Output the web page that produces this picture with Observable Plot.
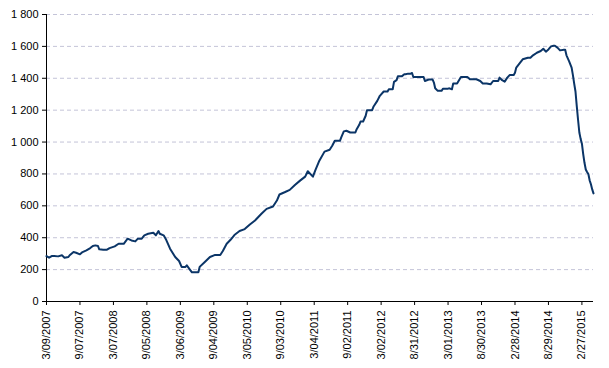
<!DOCTYPE html>
<html><head><meta charset="utf-8">
<script src="https://cdn.jsdelivr.net/npm/d3@7"></script>
<script src="https://cdn.jsdelivr.net/npm/@observablehq/plot@0.6"></script>
<style>body{margin:0;background:#fff;} svg{display:block}</style>
</head><body><div id="chart"></div>
<script>
const dates = [
"2007-03-09","2007-03-23","2007-04-06","2007-04-20","2007-05-11","2007-06-01","2007-06-15","2007-07-06","2007-07-13","2007-08-03",
"2007-08-17","2007-09-07","2007-09-21","2007-10-12","2007-11-02","2007-11-16","2007-11-30","2007-12-14","2007-12-21","2008-01-11",
"2008-02-01","2008-02-15","2008-03-14","2008-04-04","2008-05-02","2008-05-16","2008-05-23","2008-06-13","2008-07-04","2008-07-18",
"2008-08-08","2008-08-22","2008-09-12","2008-10-10","2008-10-24","2008-11-07","2008-11-14","2008-12-05","2008-12-19","2009-01-09",
"2009-02-06","2009-02-27","2009-03-13","2009-04-03","2009-04-10","2009-05-08","2009-06-12","2009-06-19","2009-07-17","2009-08-14",
"2009-09-11","2009-10-09","2009-10-23","2009-11-13","2009-12-04","2009-12-25","2010-01-22","2010-02-19","2010-03-19","2010-04-16",
"2010-05-21","2010-06-18","2010-07-23","2010-08-13","2010-08-27","2010-09-24","2010-10-22","2010-11-19","2010-12-17","2011-01-14",
"2011-01-28","2011-02-25","2011-03-11","2011-04-01","2011-04-29","2011-05-27","2011-06-10","2011-06-24","2011-07-22","2011-07-29",
"2011-08-12","2011-08-26","2011-09-16","2011-10-14","2011-10-21","2011-11-04","2011-11-11","2011-11-25","2011-12-09","2011-12-16",
"2012-01-13","2012-01-20","2012-02-10","2012-02-24","2012-03-16","2012-04-06","2012-04-13","2012-05-04","2012-05-11","2012-05-25",
"2012-06-01","2012-06-22","2012-07-06","2012-07-13","2012-07-27","2012-08-10","2012-08-17","2012-08-24","2012-09-21","2012-09-28",
"2012-10-19","2012-10-26","2012-11-16","2012-12-07","2012-12-14","2012-12-21","2013-01-04","2013-01-25","2013-02-01","2013-03-01",
"2013-03-08","2013-03-22","2013-03-29","2013-04-19","2013-05-10","2013-06-14","2013-06-28","2013-08-02","2013-08-23","2013-09-06",
"2013-09-27","2013-10-18","2013-11-01","2013-11-29","2013-12-06","2013-12-20","2014-01-03","2014-01-17","2014-01-31","2014-02-21",
"2014-02-28","2014-03-07","2014-03-28","2014-04-11","2014-05-09","2014-05-23","2014-06-06","2014-06-27","2014-07-18","2014-08-01",
"2014-08-15","2014-08-29","2014-09-12","2014-09-26","2014-10-03","2014-10-17","2014-10-31","2014-11-21","2014-11-28","2014-12-05",
"2014-12-19","2015-01-02","2015-01-09","2015-01-16","2015-01-23","2015-01-30","2015-02-06","2015-02-13","2015-02-20","2015-02-27",
"2015-03-06","2015-03-13","2015-03-20","2015-03-27","2015-04-03","2015-04-10","2015-04-17","2015-04-24","2015-05-01"
];
const rigs = [
285,275,285,285,283,290,275,279,290,310,
306,296,310,321,335,348,352,348,327,325,
325,335,346,362,362,383,394,383,377,394,
394,415,425,431,415,442,425,415,387,331,
279,254,217,217,227,183,183,217,248,279,
292,292,317,362,387,417,442,454,483,508,
550,581,596,633,671,685,700,731,758,783,
817,783,825,883,940,952,977,1008,1008,1029,
1067,1071,1060,1060,1081,1108,1129,1129,1165,1200,
1200,1221,1258,1290,1317,1317,1331,1331,1377,1388,
1412,1412,1425,1425,1429,1429,1433,1408,1408,1408,
1408,1383,1392,1392,1373,1337,1321,1321,1335,1335,
1337,1331,1367,1367,1408,1408,1394,1394,1383,1367,
1367,1362,1383,1383,1404,1388,1379,1404,1421,1421,
1435,1467,1498,1519,1529,1529,1544,1560,1571,1585,
1567,1581,1600,1604,1604,1592,1575,1579,1579,1544,
1508,1467,1420,1366,1317,1225,1140,1060,1020,990,
925,870,828,812,800,760,735,703,678
];
const xTickLabels = ["3/09/2007","9/07/2007","3/07/2008","9/05/2008","3/06/2009","9/04/2009","3/05/2010","9/03/2010",
  "3/04/2011","9/02/2011","3/02/2012","8/31/2012","3/01/2013","8/30/2013","2/28/2014","8/29/2014","2/27/2015"];
const yTicks = [0,200,400,600,800,1000,1200,1400,1600,1800];

const parse = d3.utcParse("%Y-%m-%d");
const data = dates.map((d, i) => ({date: parse(d), value: rigs[i]}));
const xTicks = xTickLabels.map(d3.utcParse("%m/%d/%Y"));
const fmtY = d3.formatLocale({decimal: ".", thousands: " ", grouping: [3], currency: ["", ""]}).format(",d");

const chart = Plot.plot({
  width: 609, height: 368,
  marginLeft: 46, marginRight: 16, marginTop: 14, marginBottom: 67,
  style: {fontFamily: "'Liberation Sans', Arial, sans-serif", fontSize: "11px", color: "#000", background: "#fff"},
  x: {type: "utc", domain: [data[0].date, data[data.length - 1].date]},
  y: {domain: [0, 1800]},
  marks: [
    Plot.gridY(yTicks.filter(d => d > 0), {stroke: "#c4c4d8", strokeOpacity: 1, strokeDasharray: "4,3"}),
    Plot.axisY(yTicks, {tickFormat: fmtY, tickSize: 4, tickPadding: 4, label: null}),
    Plot.axisX(xTicks, {tickFormat: d3.utcFormat("%-m/%d/%Y"), tickRotate: -90, tickSize: 4, tickPadding: 5, label: null}),
    Plot.ruleX([data[0].date], {stroke: "#000"}),
    Plot.ruleY([0], {stroke: "#000"}),
    Plot.line(data, {x: "date", y: "value", stroke: "#0b3567", strokeWidth: 2})
  ]
});
document.getElementById("chart").append(chart);
</script>
</body></html>
